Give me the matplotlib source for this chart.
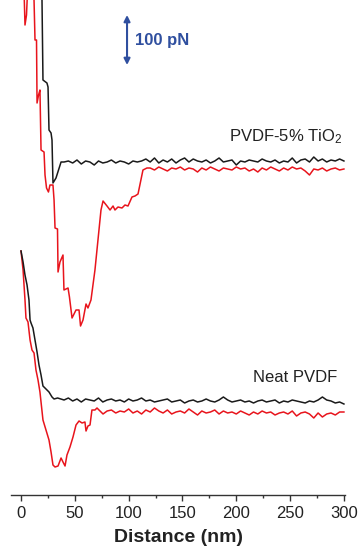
import numpy as np
import matplotlib
matplotlib.use("Agg")
import matplotlib.pyplot as plt

plt.rcParams['font.family'] = ['Liberation Sans', 'DejaVu Sans']
plt.rcParams['mathtext.fontset'] = 'custom'
plt.rcParams['mathtext.rm'] = 'Liberation Sans'
plt.rcParams['mathtext.it'] = 'Liberation Sans:italic'

# ---- data (force in pN relative to each pair's baseline, distance in nm) ----
# PVDF-5% TiO2, approach (black) steep part
tio2_black_nm = [19.5, 19.5, 20.4, 24.1, 25.1, 26.0, 27.9, 28.8, 29.7, 32.5, 37.2]
tio2_black_pN = [344, 324, 164, 158, 150, 64, 58, 44, -42, -32, 0]
# PVDF-5% TiO2, retract (red) steep part
tio2_red_nm = [2.8, 3.7, 5.1, 6.5, 11.1, 12.1, 13.0, 14.4, 14.9, 16.3, 17.6, 18.6, 21.4,
               22.3, 23.7, 25.5, 26.9, 29.7, 30.7, 31.6, 33.9, 34.4, 36.2, 39.0, 39.9,
               43.7, 45.0, 47.4, 51.1, 53.9, 55.3, 57.6, 60.4, 62.2, 65.0, 68.7, 71.5,
               74.3, 76.2, 79.9, 82.7, 85.5, 87.3, 90.1, 93.8, 96.6, 99.4, 103.1, 105.9,
               108.7, 113.3, 117.0]
tio2_red_pN = [344, 274, 294, 364, 364, 324, 244, 244, 118, 134, 144, 24, 20,
               -26, -52, -60, -46, -46, -76, -132, -134, -220, -200, -186, -256,
               -252, -270, -312, -296, -296, -328, -316, -284, -292, -276, -216, -156,
               -96, -78, -88, -96, -88, -96, -90, -92, -86, -88, -70, -68,
               -64, -16, -12]
# Neat PVDF, approach (black) steep part
neat_black_nm = [0.0, 1.9, 3.7, 5.6, 7.4, 8.4, 9.3, 11.1, 13.0, 14.9, 16.7, 18.6, 20.4,
                 23.2, 26.0, 28.8, 30.7, 34.0]
neat_black_pN = [298, 276, 250, 230, 200, 160, 154, 144, 120, 96, 70, 50, 28,
                 22, 16, 6, 2, 4]
# Neat PVDF, retract (red) steep part
neat_red_nm = [0.0, 1.9, 3.7, 4.6, 6.5, 8.4, 10.2, 12.1, 13.9, 15.8, 17.6, 20.4, 23.2,
               26.0, 27.9, 29.7, 31.6, 34.4, 37.2, 39.0, 40.9, 42.7, 45.5, 48.3, 51.1,
               53.9, 56.7, 59.4, 60.4, 62.2, 64.1, 65.9, 68.7, 70.6, 73.4, 76.2]
neat_red_pN = [298, 260, 200, 164, 156, 120, 100, 94, 60, 40, 16, -40, -60,
               -80, -104, -130, -134, -132, -116, -124, -132, -110, -94, -74, -50,
               -42, -46, -44, -62, -52, -50, -20, -20, -16, -22, -28]

# plateau sampling (nm) and plateau readings (pN)
plateau_nm = np.arange(40, 301, 4)
tio2_black_plateau = [0, 2, -2, 4, -4, 2, 0, -6, 2, -2, 0,
                      4, -2, 2, 0, -4, 2, 0, 2, 6, 0, 8,
                      -2, 4, 0, 6, -2, 4, 8, 0, 6, 2, 0,
                      4, -2, 2, 8, 0, 2, 4, -6, 2, 0, 4,
                      2, 0, 6, 2, 0, 4, -2, 2, 0, 8, -2,
                      4, 6, 0, 10, 2, 6, 0, 4, 2, 6, 2]
tio2_red_plateau = [-12, -16, -10, -14, -18, -12, -14, -10, -16, -12,
                    -14, -20, -12, -16, -10, -14, -18, -12, -14, -16,
                    -10, -14, -12, -18, -14, -20, -12, -16, -10, -14,
                    -18, -12, -16, -10, -14, -12, -18, -26, -14, -16,
                    -12, -18, -14, -12, -16, -14]
neat_black_plateau = [0, 4, -2, 2, -4, 2, 0, -2, 4, -4, 0,
                      2, -2, 0, -4, 2, -2, 0, 4, -2, 0, -4,
                      -2, 0, 2, -4, -2, 0, -6, -2, 0, -4, -2,
                      2, -2, -4, 0, 6, 0, -4, -2, 0, -4, -2,
                      -6, -2, 0, -4, -2, 0, -6, -2, -4, 0, -2,
                      -4, -6, -2, -4, 0, 6, 0, -2, -6, -4, -8]
neat_red_plateau = [-22, -20, -26, -22, -24, -18, -26, -22, -28, -20,
                    -24, -16, -22, -26, -20, -28, -24, -22, -26, -18,
                    -24, -30, -22, -26, -24, -20, -28, -22, -26, -24,
                    -28, -22, -26, -30, -24, -28, -22, -26, -24, -30,
                    -26, -24, -28, -22, -32, -26, -24, -28, -36, -26,
                    -34, -28, -26, -30, -24, -24]

tio2_offset = 666   # pN, vertical stacking offset
neat_offset = 190
tick_values = [0, 50, 100, 150, 200, 250, 300]
scale_bar_pN = 100

# ---- figure ----
fig = plt.figure(figsize=(3.6, 5.58), dpi=100)
ax = fig.add_axes([11/360, 63/558, 334/360, 495/558])

black = '#1a1a1a'
red = '#e8141c'
lw = 1.1

def series(nm, pN, plat_vals, offset):
    n = len(plat_vals)
    x = np.concatenate([nm, plateau_nm[-n:]])
    y = np.concatenate([pN, plat_vals]) + offset
    return x, y

x, y = series(tio2_red_nm, tio2_red_pN, tio2_red_plateau, tio2_offset)
ax.plot(x, y, color=red, lw=lw)
x, y = series(tio2_black_nm, tio2_black_pN, tio2_black_plateau, tio2_offset)
ax.plot(x, y, color=black, lw=lw)
x, y = series(neat_red_nm, neat_red_pN, neat_red_plateau, neat_offset)
ax.plot(x, y, color=red, lw=lw)
x, y = series(neat_black_nm, neat_black_pN, neat_black_plateau, neat_offset)
ax.plot(x, y, color=black, lw=lw)

ax.set_xlim(-9.3, 301)
ax.set_ylim(0, 990)

for s in ['left', 'right', 'top']:
    ax.spines[s].set_visible(False)
ax.spines['bottom'].set_color('#333333')
ax.spines['bottom'].set_linewidth(1.0)
ax.set_yticks([])
ax.set_xticks(tick_values)
ax.set_xticks([25, 75, 125, 175, 225, 275], minor=True)
ax.tick_params(axis='x', which='major', direction='out', length=4, width=1,
               color='#333333', labelsize=12, pad=4, labelcolor='#222222')
ax.tick_params(axis='x', which='minor', direction='out', length=2.5, width=1,
               color='#333333')
ax.set_xlabel('Distance (nm)', fontsize=14, fontweight='bold', labelpad=6,
              color='#222222')

# labels
ax.text(299, 716, 'PVDF-5% TiO$_2$', ha='right', va='center', fontsize=12,
        color='#222222')
ax.text(293.5, 234, 'Neat PVDF', ha='right', va='center', fontsize=12,
        color='#222222')

# scale bar
blue = '#2f4f9f'
ax.annotate('', xy=(98.5, 860 + scale_bar_pN), xytext=(98.5, 860),
            arrowprops=dict(arrowstyle='<|-|>', color=blue, lw=1.5,
                            mutation_scale=9, shrinkA=0, shrinkB=0))
ax.text(106, 908, '100 pN', ha='left', va='center', fontsize=12,
        fontweight='bold', color=blue)

fig.savefig('out.png', dpi=100)
